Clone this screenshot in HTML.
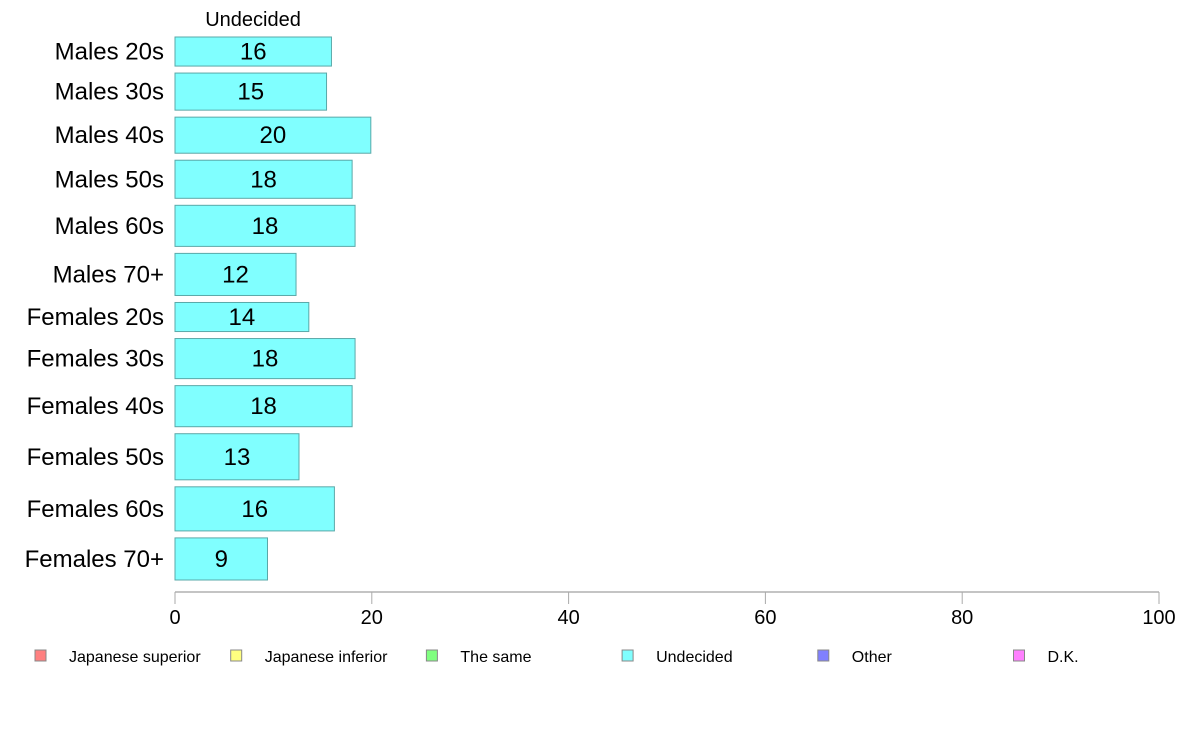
<!DOCTYPE html>
<html><head><meta charset="utf-8"><style>
body{margin:0;background:#fff;width:1188px;height:736px;overflow:hidden}
svg{font-family:"Liberation Sans",Arial,sans-serif}
</style></head><body>
<svg id="chart" width="1188" height="736"></svg>
<script>
const categories=["Males 20s","Males 30s","Males 40s","Males 50s","Males 60s","Males 70+","Females 20s","Females 30s","Females 40s","Females 50s","Females 60s","Females 70+"];
const values=[15.9,15.4,19.9,18.0,18.3,12.3,13.6,18.3,18.0,12.6,16.2,9.4];
const labels=["16","15","20","18","18","12","14","18","18","13","16","9"];
const barWeights=[29,37,36,38,41,42,29,40,41,46,44,42];
const ticks=[0,20,40,60,80,100];
const legendItems=["Japanese superior","Japanese inferior","The same","Undecided","Other","D.K."];
const legendColors=["#ff8080","#ffff80","#80ff80","#80ffff","#8080ff","#ff80ff"];
const NS="http://www.w3.org/2000/svg";
const svgEl=document.getElementById('chart');
const xScale=v=>175+v*9.84;
function mk(t,a){const e=document.createElementNS(NS,t);for(const k in a)e.setAttribute(k,a[k]);svgEl.appendChild(e);return e;}
const barTop=37,barBottom=580,barGap=7;
const tot=barWeights.reduce((a,b)=>a+b,0);
const avail=barBottom-barTop-barGap*(categories.length-1);
let yPos=barTop;
const t0=mk('text',{x:253,y:26,'font-size':20,'text-anchor':'middle',fill:'#000'});
t0.textContent="Undecided";


categories.forEach((c,i)=>{
  const h=barWeights[i]/tot*avail;
  const r=mk('rect',{x:xScale(0),y:yPos,width:xScale(values[i])-xScale(0),height:h,fill:'#80ffff',stroke:'#5aa8a8','stroke-width':1});
  
  
  const cy=yPos+h/2+8;
  const l=mk('text',{x:(xScale(0)+xScale(values[i]))/2,y:cy,'font-size':24,'text-anchor':'middle',fill:'#000'});
  l.textContent=labels[i];
  
  
  const cl=mk('text',{x:164,y:cy,'font-size':24,'text-anchor':'end',fill:'#000'});
  cl.textContent=c;
  
  
  yPos+=h+barGap;
});
const ax=mk('line',{x1:xScale(0),x2:xScale(100),y1:592,y2:592,stroke:'#888','stroke-width':1});


ticks.forEach(t=>{
  const tl=mk('line',{x1:xScale(t),x2:xScale(t),y1:592,y2:604,stroke:'#aaa','stroke-width':1});
  
  
  const tt=mk('text',{x:xScale(t),y:624,'font-size':20,'text-anchor':'middle',fill:'#000'});
  tt.textContent=t;
  
  
});
legendItems.forEach((n,i)=>{
  const lx=35+i*195.7;
  const sq=mk('rect',{x:lx,y:650,width:11,height:11,fill:legendColors[i],stroke:'#888','stroke-width':1});
  
  
  const lt=mk('text',{x:lx+34,y:662,'font-size':16,fill:'#000'});
  lt.textContent=n;
  
  
});
</script>
</body></html>
